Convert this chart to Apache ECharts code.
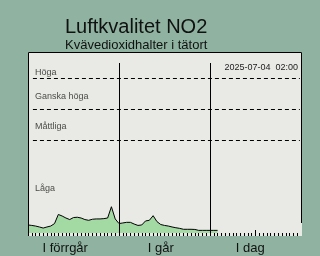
<!DOCTYPE html>
<html><head><meta charset="utf-8">
<script src="https://cdn.jsdelivr.net/npm/echarts@6/dist/echarts.min.js"></script>
<style>html,body{margin:0;padding:0;background:#8fb3a0;}#c{width:320px;height:256px;}</style>
</head><body><div id="c"></div>
<script>
// Hours since start of "I förrgår" (0..50), NO2 values
const hours = [0,1,2,3,4,5,6,7,8,9,10,11,12,13,14,15,16,17,18,19,20,21,22,23,24,25,26,27,28,29,30,31,32,33,34,35,36,37,38,39,40,41,42,43,44,45,46,47,48,49,50];
const no2 = [5.2,4.9,4.5,3.9,3.2,3.9,4.5,6.1,12.0,11.0,9.7,8.7,10.0,10.2,9.7,8.7,8.2,8.9,9.1,9.1,9.3,9.7,17.0,9.1,6.1,6.5,6.9,6.9,5.8,4.9,5.2,7.8,8.2,11.2,7.4,5.5,4.9,4.5,3.9,3.4,3.0,2.4,2.4,2.4,2.3,1.7,1.7,1.7,1.7,1.7,1.7];
const thresholds = [60, 80, 100];
const dayBoundaries = [24, 48];
const dayLabels = ['I förrgår', 'I går', 'I dag'];
const dayLabelPos = [9.8, 35, 58.6];
const zoneNames = ['Höga', 'Ganska höga', 'Måttliga', 'Låga'];
const zoneLabelY = [103.6, 88.2, 68.8, 28.5];
const hourTicks = []; for (let h = 1; h < 72; h++) hourTicks.push(h);
const noonTicks = [12, 36, 60];
const timestamp = '2025-07-04  02:00';

const FONT = '"Liberation Sans", Arial, sans-serif';
const chart = echarts.init(document.getElementById('c'), null, {renderer: 'canvas'});
chart.setOption({
  backgroundColor: '#8fb3a0',
  animation: false,
  title: {
    text: 'Luftkvalitet NO2', subtext: 'Kvävedioxidhalter i tätort',
    left: 65, top: 17, padding: 0, itemGap: 2,
    textStyle: {fontFamily: FONT, fontSize: 20, fontWeight: 'normal', color: '#111'},
    subtextStyle: {fontFamily: FONT, fontSize: 13, color: '#111'}
  },
  grid: {left: 28, right: 19, top: 63, bottom: 23},
  xAxis: [{
    type: 'value', min: 0, max: 72,
    axisLine: {show: false}, splitLine: {show: false},
    axisTick: {show: true, customValues: hourTicks, length: 3, lineStyle: {color: '#000', width: 1}},
    axisLabel: {show: true, customValues: dayLabelPos, margin: 9,
      formatter: v => dayLabels[dayLabelPos.indexOf(v)] || '',
      fontFamily: FONT, fontSize: 13, color: '#111'}
  }, {
    type: 'value', min: 0, max: 72, position: 'bottom', offset: -3,
    axisLine: {show: false}, splitLine: {show: false}, axisLabel: {show: false},
    axisTick: {show: true, customValues: noonTicks, length: 6, lineStyle: {color: '#000', width: 1}}
  }],
  yAxis: {type: 'value', min: 0, max: 110, show: false},
  graphic: [
    {type: 'rect', z: -10, silent: true, shape: {x: 28, y: 52, width: 274, height: 184}, style: {fill: '#e9eae5'}},
    {type: 'polyline', z: 100, silent: true, shape: {points: [[28.5, 236], [28.5, 52.5], [301.5, 52.5], [301.5, 223]]}, style: {stroke: '#000', lineWidth: 1, fill: null}},
    {type: 'text', z: 100, right: 22, top: 63, style: {text: timestamp, font: '9px ' + FONT, fill: '#222'}}
  ],
  series: [{
    type: 'line', data: hours.map((h, i) => [h, no2[i]]),
    showSymbol: false, symbol: 'none',
    lineStyle: {color: '#000', width: 1},
    areaStyle: {color: '#a3d9a3', opacity: 1},
    z: 3,
    markLine: {
      silent: true, symbol: 'none', label: {show: false},
      data: thresholds.map(t => [{coord: [1.3, t]}, {coord: [71.7, t]}])
        .map(p => { p[0].lineStyle = {type: [4, 3], color: '#000', width: 1}; return p; })
        .concat(dayBoundaries.map(d => ({xAxis: d, lineStyle: {type: 'solid', color: '#000', width: 1}})))
    }
  }, {
    type: 'scatter', symbolSize: 0, silent: true,
    data: zoneLabelY.map(y => [1.85, y]),
    label: {show: true, position: 'right', distance: 0,
      formatter: p => zoneNames[p.dataIndex], fontFamily: FONT, fontSize: 9, color: '#222'}
  }]
});
</script></body></html>
